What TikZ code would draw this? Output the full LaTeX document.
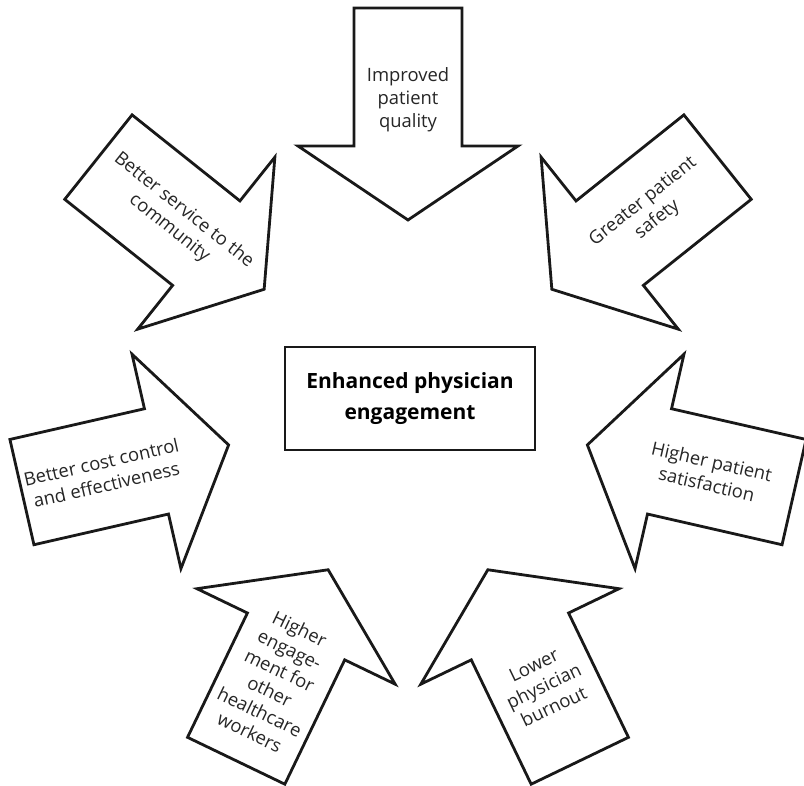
\documentclass[tikz,border=0pt]{standalone}
\usepackage{fontspec}
\setmainfont{Open Sans}
\usetikzlibrary{positioning}

\begin{document}
\begin{tikzpicture}[
  x=0.5pt, y=0.5pt,
  bigarrow/.style={draw=black!90, line width=1.4pt, line join=miter, fill=white},
  arrowtext/.style={align=center, font=\fontsize{9.2}{11.5}\selectfont, text=black!85},
  hub/.style={draw=black!90, line width=1.4pt, align=center, minimum width=125pt, minimum height=51.5pt, inner sep=0pt, font=\bfseries\fontsize{10.5}{15.5}\selectfont}
]
\useasboundingbox (-408,-382) rectangle (396,404);
\node[hub] (hub) at (2,5.5) {Enhanced physician\\engagement};
\foreach \ang/\rot/\dist/\nm/\txt in {
    90/0/304/quality/{Improved\\patient\\quality},
    38.571/38.571/310/safety/{Greater patient\\safety},
    -12.857/-12.857/309/satisfaction/{Higher patient\\satisfaction},
    -64.286/25.714/313/burnout/{Lower\\physician\\burnout},
    -115.714/-25.714/307/workers/{Higher\\engage-\\ment for\\other\\healthcare\\workers},
    -167.143/12.857/312/cost/{Better cost control\\and effectiveness},
    141.429/-38.571/296/community/{Better service to the\\community}}{
  \draw[bigarrow, rotate=\ang-90] (-54,396) -- (54,396) -- (54,258) -- (110,258) -- (0,184) -- (-110,258) -- (-54,258) -- cycle;
  \node[arrowtext, rotate=\rot] (\nm) at (\ang:\dist) {\txt};
}
\end{tikzpicture}
\end{document}
